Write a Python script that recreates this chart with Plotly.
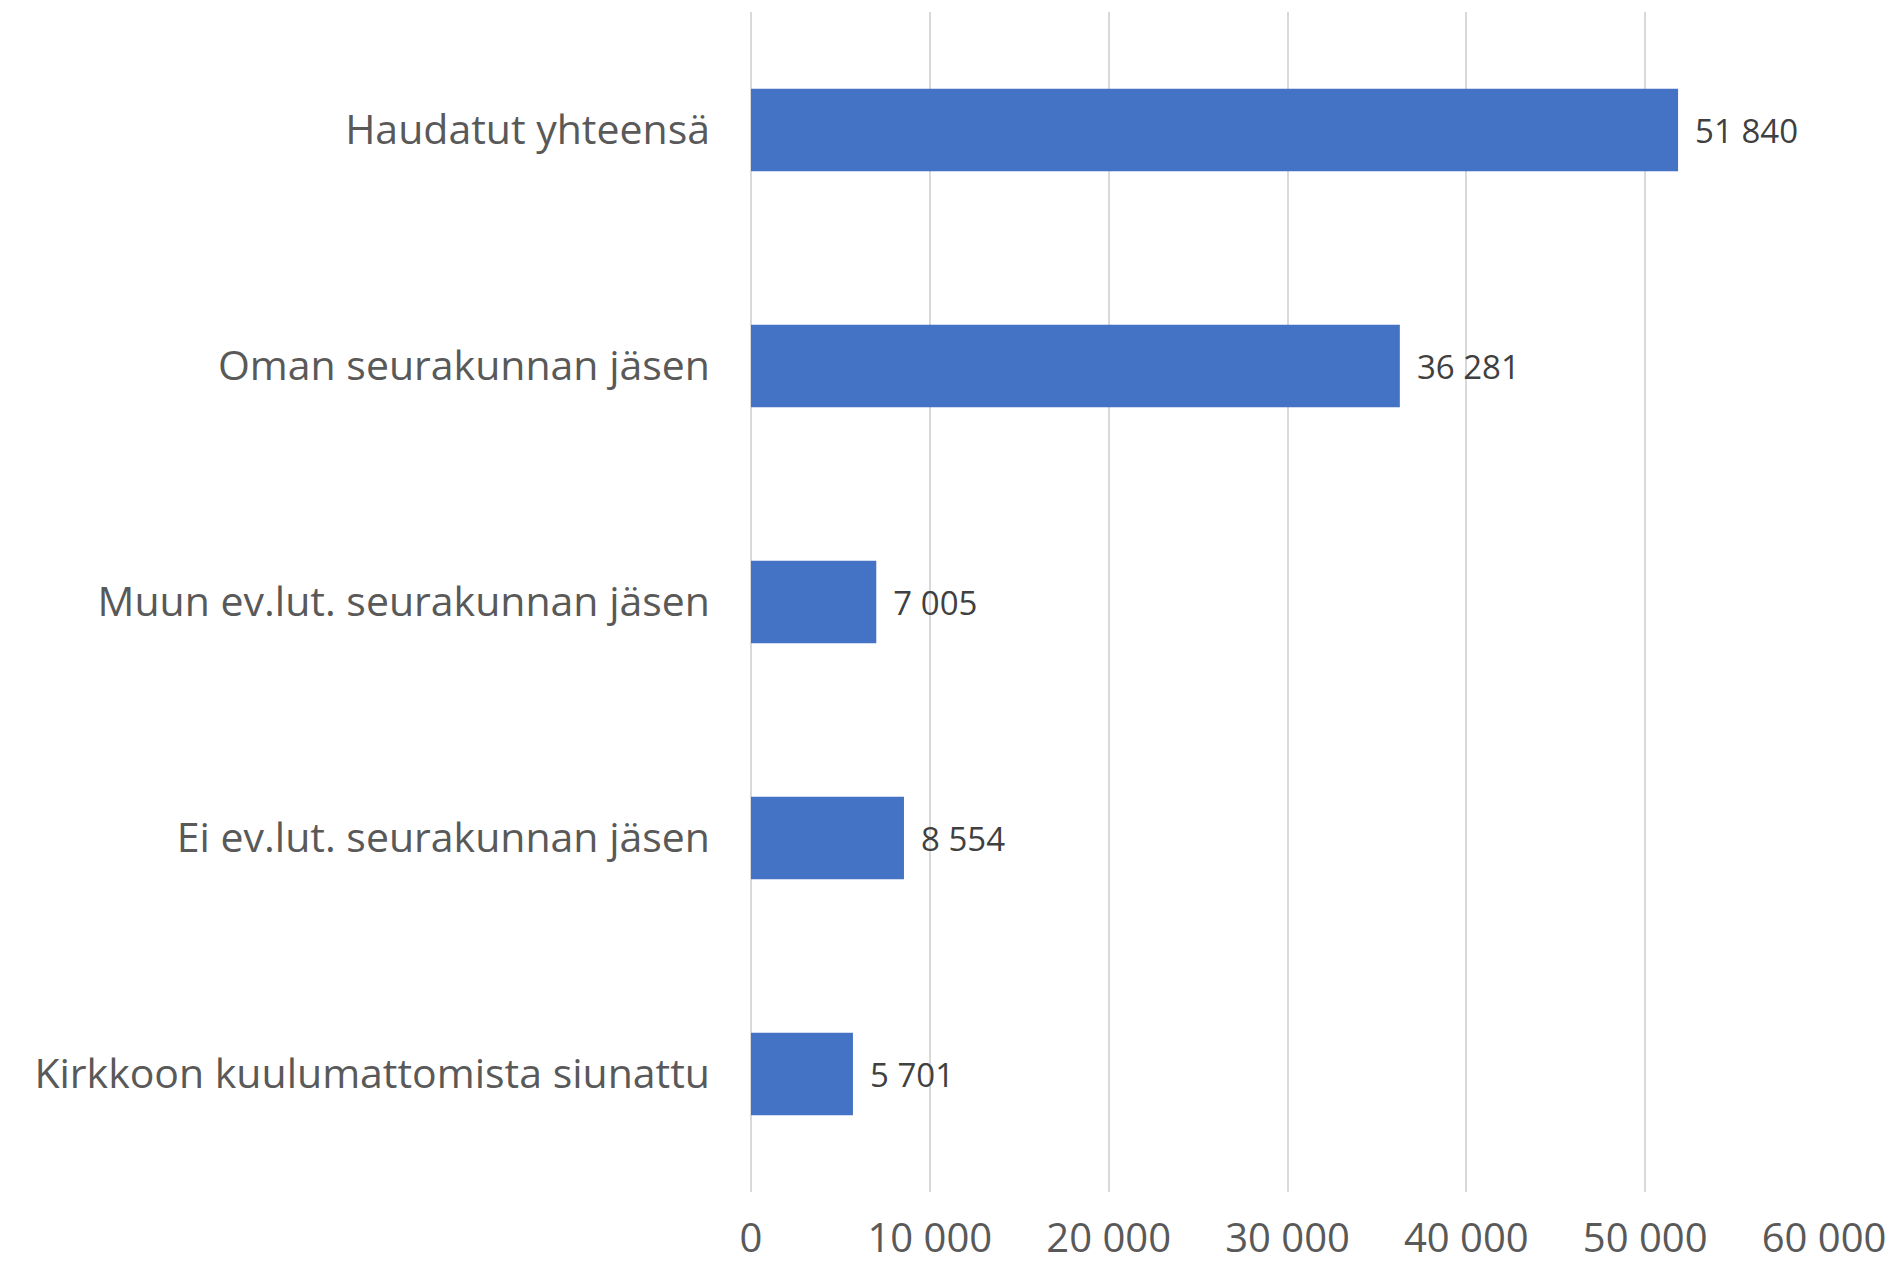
import plotly.graph_objects as go

categories = [
    "Haudatut yhteensä",
    "Oman seurakunnan jäsen",
    "Muun ev.lut. seurakunnan jäsen",
    "Ei ev.lut. seurakunnan jäsen",
    "Kirkkoon kuulumattomista siunattu",
]
values = [51840, 36281, 7005, 8554, 5701]
x_ticks = [0, 10000, 20000, 30000, 40000, 50000, 60000]

BLUE = "#4472C4"
GRID = "#D9D9D9"
FONT = "Open Sans, sans-serif"

fig = go.Figure()
fig.add_trace(go.Bar(
    x=values, y=categories,
    orientation="h",
    width=0.35,
    marker=dict(color=BLUE, line=dict(width=0)),
    texttemplate=" \u2009%{x:,d}",
    textposition="outside",
    textfont=dict(size=33, color="#404040", family=FONT),
    cliponaxis=False,
))

fig.update_layout(
    width=1897, height=1269,
    paper_bgcolor="white", plot_bgcolor="white",
    separators=", ",
    font=dict(family=FONT, color="#595959", size=41),
    margin=dict(l=751, r=73, t=12, b=77),
    showlegend=False,
    xaxis=dict(
        range=[0, 60000], tickvals=x_ticks, tickformat=",d",
        showgrid=True, gridcolor=GRID, gridwidth=1.5,
        zeroline=True, zerolinecolor=GRID, zerolinewidth=1.5,
        showline=False, ticks="", ticklabelstandoff=19,
        automargin=False,
        tickfont=dict(size=40, color="#595959"),
    ),
    yaxis=dict(
        autorange="reversed", showgrid=False, showline=False, ticks="",
        ticklabelstandoff=40, automargin=False,
        tickfont=dict(size=41, color="#595959"),
    ),
)

# drop the default 8px body margin so the figure fills the window
fig.write_html(
    "out.html",
    config={"displayModeBar": False},
    post_script="document.body.style.margin='0';",
)
